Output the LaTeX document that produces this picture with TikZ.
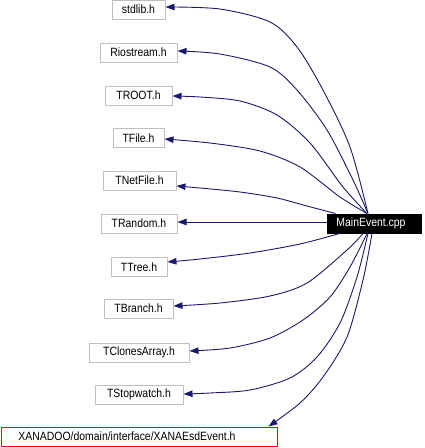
\documentclass[tikz,border=0pt]{standalone}
\usepackage{fontspec}
\setmainfont[FakeStretch=0.87]{Liberation Sans}
\usetikzlibrary{arrows.meta,calc}
\definecolor{edgeblue}{RGB}{25,25,112}
\definecolor{boxgray}{RGB}{191,191,191}
\tikzset{
  hdr/.style={draw=boxgray, line width=1pt, rectangle, inner sep=0pt, minimum height=19pt, font=\fontsize{12}{14}\selectfont},
  mainbox/.style={draw=black, fill=black, text=white, line width=1pt, rectangle, inner sep=0pt, minimum height=19pt, minimum width=94pt, font=\fontsize{12}{14}\selectfont},
  redbox/.style={hdr, draw=red},
  edge/.style={draw=edgeblue, line width=0.9pt, -{Triangle[length=9pt,width=6.5pt]}}
}
\begin{document}
\begin{tikzpicture}[x=1pt,y=-1pt]
\useasboundingbox (0,0) rectangle (424,448);
\node[mainbox] (main) at (374,223.5) {\hspace*{-6pt}MainEvent.cpp};
\node[hdr, minimum width=53pt] (stdlib) at (138.5,9.5) {stdlib.h};
\node[hdr, minimum width=77pt] (rio) at (138.5,52.5) {Riostream.h};
\node[hdr, minimum width=67pt] (troot) at (138.5,95.5) {TROOT.h};
\node[hdr, minimum width=51pt] (tfile) at (138.5,138) {TFile.h};
\node[hdr, minimum width=73pt] (tnet) at (139.5,180.5) {TNetFile.h};
\node[hdr, minimum width=76pt] (trand) at (139,223.5) {TRandom.h};
\node[hdr, minimum width=56pt] (ttree) at (139,267) {TTree.h};
\node[hdr, minimum width=69pt] (tbranch) at (138.5,308.5) {TBranch.h};
\node[hdr, minimum width=100pt] (tclones) at (139,352.5) {TClonesArray.h};
\node[hdr, minimum width=88pt] (tstop) at (139,394.5) {TStopwatch.h};
\node[redbox, minimum width=276pt] (xana) at (139,436.5) {\hspace*{-24pt}XANADOO/domain/interface/XANAEsdEvent.h};
% start points on MainEvent.cpp
\coordinate (s1) at ($(main.north)+(-6,0)$);
\coordinate (s2) at ($(main.north)+(-6,0)$);
\coordinate (s3) at ($(main.north)+(-7,0)$);
\coordinate (s4) at ($(main.north)+(-7,0)$);
\coordinate (s5) at ($(main.north west)+(9,0)$);
\coordinate (s6) at ($(main.west)+(0,-1.5)$);
\coordinate (s7) at ($(main.south west)+(13,0)$);
\coordinate (s8) at ($(main.south)+(-11,0)$);
\coordinate (s9) at ($(main.south)+(-7,0)$);
\coordinate (s10) at ($(main.south)+(-6,0)$);
\coordinate (s11) at ($(main.south)+(-2,0)$);
% end points on the headers
\coordinate (e1) at ($(stdlib.east)+(0,-2.5)$);
\coordinate (e2) at ($(rio.east)+(0,-1.5)$);
\coordinate (e3) at ($(troot.east)+(0,0.5)$);
\coordinate (e4) at ($(tfile.east)+(0,1)$);
\coordinate (e5) at ($(tnet.east)+(0,5.5)$);
\coordinate (e6) at ($(trand.east)+(0,-1.5)$);
\coordinate (e7) at ($(ttree.east)+(0,-5)$);
\coordinate (e8) at ($(tbranch.east)+(0,-2.5)$);
\coordinate (e9) at ($(tclones.east)+(0,-1.5)$);
\coordinate (e10) at ($(tstop.east)+(0,-0.5)$);
\coordinate (e11) at ($(xana.north east)+(-9,0)$);
% edges
\draw[edge] plot[smooth] coordinates {(s1) (350,147) (323,90) (297,47) (270,22) (220,9) (e1)};
\draw[edge] plot[smooth] coordinates {(s2) (353,180) (327,130) (297,90) (270,67) (220,54) (e2)};
\draw[edge] plot[smooth] coordinates {(s3) (343,187) (310,143) (277,115) (240,101) (200,97) (e3)};
\draw[edge] plot[smooth] coordinates {(s4) (340,197) (300,167) (260,151) (210,143) (e4)};
\draw[edge] plot[smooth] coordinates {(s5) (307,206) (277,198) (240,192) (200,188) (e5)};
\draw[edge] (s6) -- (e6);
\draw[edge] plot[smooth] coordinates {(s7) (300,244) (250,253) (200,259) (e7)};
\draw[edge] plot[smooth] coordinates {(s8) (347,250) (307,283) (270,296) (220,303) (e8)};
\draw[edge] plot[smooth] coordinates {(s9) (350,267) (330,297) (303,320) (270,338) (230,348) (e9)};
\draw[edge] plot[smooth] coordinates {(s10) (357,277) (340,323) (317,357) (290,378) (250,390) (210,393) (e10)};
\draw[edge] plot[smooth] coordinates {(s11) (363,280) (347,337) (323,377) (300,403) (e11)};
\end{tikzpicture}
\end{document}
